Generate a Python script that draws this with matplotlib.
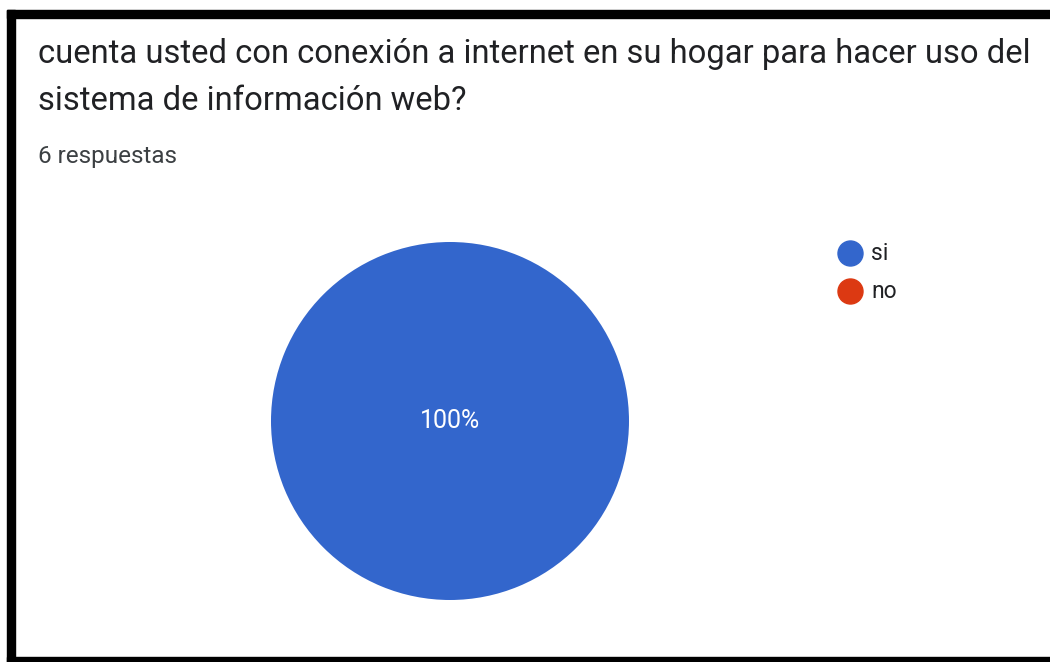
import matplotlib.pyplot as plt
from matplotlib.patches import Rectangle

plt.rcParams['font.family'] = ['Roboto', 'DejaVu Sans']

title_lines = ["cuenta usted con conexión a internet en su hogar para hacer uso del",
               "sistema de información web?"]
subtitle = "6 respuestas"
labels = ["si", "no"]
counts = [6, 0]
colors = ["#3366cc", "#dc3912"]

W, H = 1050, 662
fig = plt.figure(figsize=(W / 100, H / 100), dpi=100)
fig.patch.set_facecolor("white")


def fx(px):
    return px / W


def fy(py):
    return 1 - py / H


# black frame (top, left, bottom)
for x0, y0, w, h in [(7, 10, 1043, 8), (7, 10, 8, 652), (7, 657, 1043, 5)]:
    fig.patches.append(Rectangle((fx(x0), fy(y0 + h)), w / W, h / H,
                                 transform=fig.transFigure, color="black", zorder=5))

fig.text(fx(38), fy(63), title_lines[0], fontsize=23.6, color="#202124", va="baseline")
fig.text(fx(38), fy(110), title_lines[1], fontsize=23.6, color="#202124", va="baseline")
fig.text(fx(38), fy(163), subtitle, fontsize=17.5, color="#3c4043", va="baseline")

ax = fig.add_axes([fx(271), fy(600), 358 / W, 358 / H])
ax.pie(counts, colors=colors, startangle=90, counterclock=False,
       wedgeprops=dict(linewidth=0),
       autopct=lambda p: f"{p:.0f}%" if p > 0 else "",
       pctdistance=0.0,
       textprops=dict(color="white", fontsize=18))
ax.set_xlim(-1, 1)
ax.set_ylim(-1, 1)
ax.set_aspect("equal")
ax.axis("off")

# legend
for i, (lab, col) in enumerate(zip(labels, colors)):
    yy = 253 + 38 * i
    fig.add_artist(plt.Line2D([fx(849.5)], [fy(yy)], marker="o", markersize=18,
                              color=col, transform=fig.transFigure))
    fig.text(fx(871), fy(yy), lab, fontsize=16.5, color="#202124", va="center")

fig.savefig("out.png", dpi=100)
